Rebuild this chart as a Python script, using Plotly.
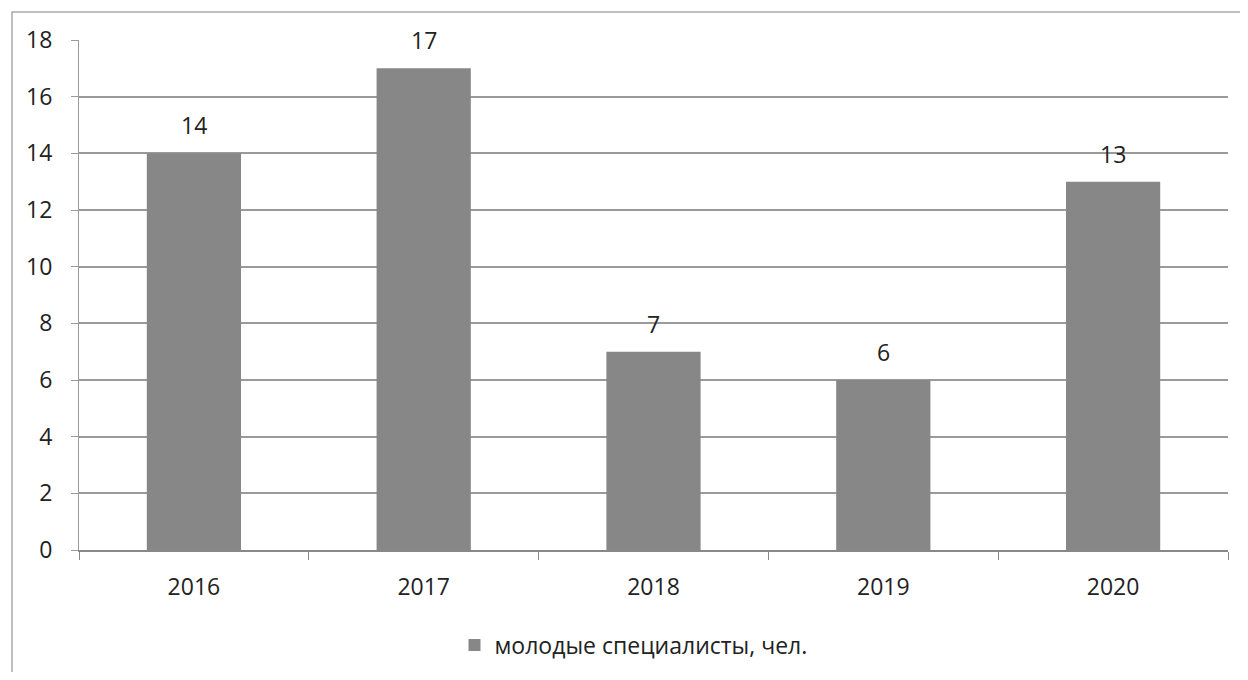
import plotly.graph_objects as go

years = ["2016", "2017", "2018", "2019", "2020"]
values = [14, 17, 7, 6, 13]
series_name = "молодые специалисты, чел."

fig = go.Figure()
fig.add_trace(go.Bar(
    x=years, y=values, name=series_name,
    marker=dict(color="#878787", line=dict(width=0)),
    width=0.41,
))
for i, v in enumerate(values):
    fig.add_annotation(x=i, y=v, xref="x", yref="y", text=str(v), showarrow=False,
                       yanchor="bottom", yshift=10,
                       font=dict(size=23, color="#222"))

# page body has an 8px margin; figure sized to fit the window
W, H = 1232, 664
L, R, T, B = 71, 12, 32, 122
PW, PH = W - L - R, H - T - B
fig.update_layout(
    width=W, height=H,
    margin=dict(l=L, r=R, t=T, b=B, autoexpand=False),
    paper_bgcolor="white", plot_bgcolor="white",
    font=dict(family="Open Sans, Liberation Sans, sans-serif", size=23, color="#222"),
    showlegend=True,
    legend=dict(orientation="h", x=0.5 - 20 / PW, xanchor="center", y=-(637 - (H - B)) / PH,
                yanchor="middle", font=dict(size=23), itemwidth=30),
    xaxis=dict(type="category", range=[-0.5, len(years) - 0.5], showgrid=False,
               ticks="outside", tickson="boundaries",
               ticklen=8, tickcolor="#888", showline=True, linecolor="#888", linewidth=1.5,
               tickfont=dict(size=23), ticklabelstandoff=16, automargin=False),
    yaxis=dict(range=[0, 18], dtick=2, showgrid=True, gridcolor="#9a9a9a", gridwidth=1.5,
               ticks="outside", ticklen=7, tickcolor="#9a9a9a", showline=True, linecolor="#9a9a9a",
               zeroline=False, tickfont=dict(size=23), ticklabelstandoff=14, automargin=False),
    shapes=[dict(type="rect", xref="paper", yref="paper",
                 x0=-(L - 4) / PW, x1=1.2,
                 y0=-1, y1=1 + (T - 4) / PH,
                 line=dict(color="#aaa", width=1.5))],
)
fig.write_html("out.html")
